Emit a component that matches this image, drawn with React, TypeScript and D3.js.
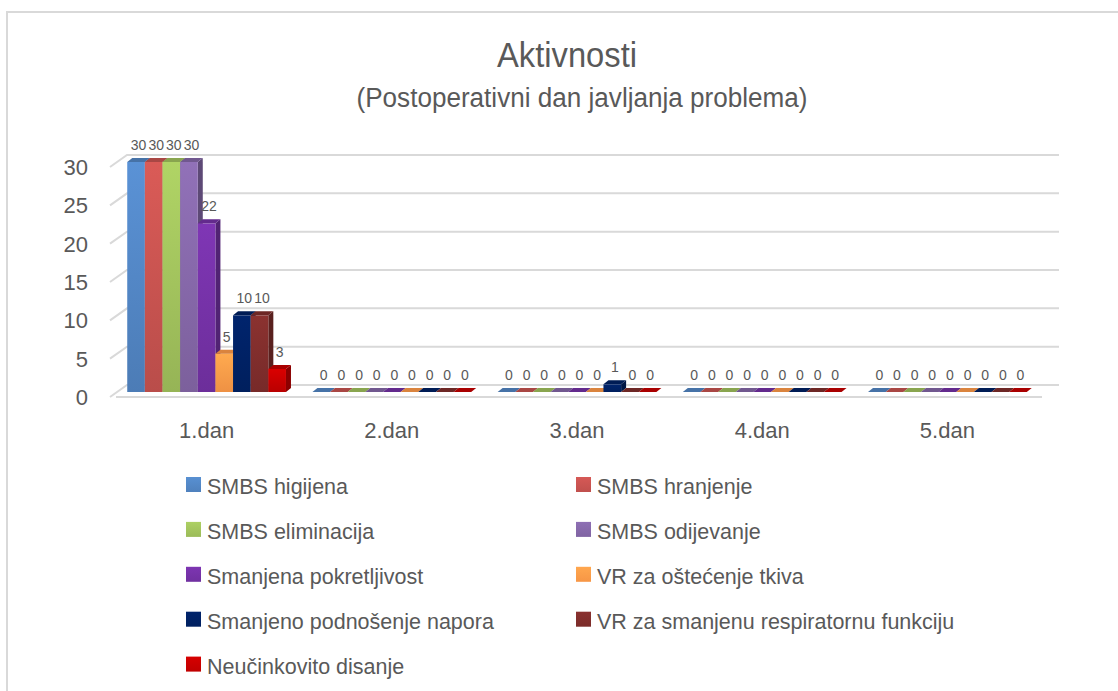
import { useEffect, useRef } from 'react'
import * as d3 from 'd3'

const categories = ['1.dan', '2.dan', '3.dan', '4.dan', '5.dan']

const seriesNames = [
  'SMBS higijena',
  'SMBS hranjenje',
  'SMBS eliminacija',
  'SMBS odijevanje',
  'Smanjena pokretljivost',
  'VR za oštećenje tkiva',
  'Smanjeno podnošenje napora',
  'VR za smanjenu respiratornu funkciju',
  'Neučinkovito disanje',
]

const seriesColors = [
  '#4f81bd',
  '#c0504d',
  '#9bbb59',
  '#8064a2',
  '#7030a0',
  '#f79646',
  '#002060',
  '#7b2c2a',
  '#c00000',
]

// values per day (1.dan .. 5.dan)
const smbsHigijena = [30, 0, 0, 0, 0]
const smbsHranjenje = [30, 0, 0, 0, 0]
const smbsEliminacija = [30, 0, 0, 0, 0]
const smbsOdijevanje = [30, 0, 0, 0, 0]
const smanjenaPokretljivost = [22, 0, 0, 0, 0]
const vrOstecenjeTkiva = [5, 0, 0, 0, 0]
const smanjenoPodnosenje = [10, 0, 1, 0, 0]
const vrRespiratorna = [10, 0, 0, 0, 0]
const neucinkovitoDisanje = [3, 0, 0, 0, 0]

const yTicks = [0, 5, 10, 15, 20, 25, 30]

const seriesValues = [
  smbsHigijena,
  smbsHranjenje,
  smbsEliminacija,
  smbsOdijevanje,
  smanjenaPokretljivost,
  vrOstecenjeTkiva,
  smanjenoPodnosenje,
  vrRespiratorna,
  neucinkovitoDisanje,
]

const FONT = '"Liberation Sans", Arial, sans-serif'
const TEXT = '#595959'

export default function App() {
  const svgRef = useRef<SVGSVGElement | null>(null)

  useEffect(() => {
    if (!svgRef.current) return
    const width = 1118
    const height = 691

    const svg = d3.select(svgRef.current)
    svg.selectAll('*').remove()
    svg.attr('width', width).attr('height', height)

    // chart frame
    svg
      .append('rect')
      .attr('x', 7)
      .attr('y', 12)
      .attr('width', 1130)
      .attr('height', 700)
      .attr('fill', '#fff')
      .attr('stroke', '#d9d9d9')
      .attr('stroke-width', 2)

    // title (narrow, tall look)
    svg
      .append('text')
      .attr('x', 567)
      .attr('y', 67)
      .attr('text-anchor', 'middle')
      .attr('textLength', 140)
      .attr('lengthAdjust', 'spacingAndGlyphs')
      .style('font-family', FONT)
      .style('font-size', '35px')
      .attr('fill', TEXT)
      .text('Aktivnosti')

    svg
      .append('text')
      .attr('x', 582)
      .attr('y', 107)
      .attr('text-anchor', 'middle')
      .attr('textLength', 451)
      .attr('lengthAdjust', 'spacingAndGlyphs')
      .style('font-family', FONT)
      .style('font-size', '27px')
      .attr('fill', TEXT)
      .text('(Postoperativni dan javljanja problema)')

    // 3D-ish geometry
    const floorDx = 17
    const floorDy = -12
    const barDx = 5
    const barDy = -4
    const barLift = 5

    const y = d3.scaleLinear().domain([0, 30]).range([397, 167])
    const xCat = d3.scaleBand<string>().domain(categories).range([114, 1040]).padding(0)
    const xSer = d3
      .scaleBand<string>()
      .domain(seriesNames)
      .range([0, xCat.bandwidth()])
      .paddingInner(0)
      .paddingOuter(0.75)

    const wallX = 110
    const rightX = 1059

    // gridlines: side wall diagonal + back wall
    const grid = svg.append('g').attr('fill', 'none').attr('stroke', '#d9d9d9').attr('stroke-width', 2)
    yTicks.forEach(t => {
      const yy = y(t)
      grid
        .append('path')
        .attr('d', `M${wallX},${yy} L${wallX + floorDx},${yy + floorDy} L${rightX},${yy + floorDy}`)
    })
    // floor front edge
    grid
      .append('line')
      .attr('x1', wallX + 6)
      .attr('x2', rightX - floorDx)
      .attr('y1', y(0))
      .attr('y2', y(0))

    // y labels
    svg
      .append('g')
      .selectAll('text')
      .data(yTicks)
      .enter()
      .append('text')
      .attr('x', 88)
      .attr('y', d => y(d) + 8)
      .attr('text-anchor', 'end')
      .style('font-family', FONT)
      .style('font-size', '22px')
      .attr('fill', TEXT)
      .text(d => d)

    // category labels
    svg
      .append('g')
      .selectAll('text')
      .data(categories)
      .enter()
      .append('text')
      .attr('x', d => (xCat(d) as number) + xCat.bandwidth() / 2)
      .attr('y', 438)
      .attr('text-anchor', 'middle')
      .style('font-family', FONT)
      .style('font-size', '22px')
      .attr('fill', TEXT)
      .text(d => d)

    // gradients
    const defs = svg.append('defs')
    seriesColors.forEach((c, i) => {
      const g = defs
        .append('linearGradient')
        .attr('id', `bar-grad-${i}`)
        .attr('x1', '0%')
        .attr('y1', '0%')
        .attr('x2', '0%')
        .attr('y2', '100%')
      g.append('stop').attr('offset', '0%').attr('stop-color', d3.color(c)!.brighter(0.35).formatHex())
      g.append('stop').attr('offset', '100%').attr('stop-color', d3.color(c)!.darker(0.1).formatHex())
    })

    // bars
    const bars = svg.append('g')
    const labels = svg.append('g')
    categories.forEach((cat, ci) => {
      seriesNames.forEach((name, si) => {
        const v = seriesValues[si][ci]
        const x0 = (xCat(cat) as number) + (xSer(name) as number)
        const w = xSer.bandwidth()
        const yb = y(0) - barLift
        const yt = y(v) - barLift
        const col = d3.color(seriesColors[si])!
        const g = bars.append('g')
        if (v > 0) {
          // side face
          g.append('path')
            .attr('d', `M${x0 + w},${yt} L${x0 + w + barDx},${yt + barDy} L${x0 + w + barDx},${yb + barDy} L${x0 + w},${yb} Z`)
            .attr('fill', col.darker(0.9).formatHex())
          // front face
          g.append('rect')
            .attr('x', x0)
            .attr('y', yt)
            .attr('width', w)
            .attr('height', yb - yt)
            .attr('fill', `url(#bar-grad-${si})`)
        }
        // top face
        g.append('path')
          .attr('d', `M${x0},${yt} L${x0 + barDx},${yt + barDy} L${x0 + w + barDx},${yt + barDy} L${x0 + w},${yt} Z`)
          .attr('fill', col.darker(0.35).formatHex())

        labels
          .append('text')
          .attr('x', x0 + w / 2 + barDx / 2)
          .attr('y', yt - 12)
          .attr('text-anchor', 'middle')
          .style('font-family', FONT)
          .style('font-size', '14px')
          .attr('fill', TEXT)
          .text(v)
      })
    })

    // legend
    const legend = svg.append('g')
    seriesNames.forEach((name, i) => {
      const col = i % 2
      const row = Math.floor(i / 2)
      const lx = col === 0 ? 186 : 576
      const ly = 477 + row * 44.9
      const grad = defs
        .append('linearGradient')
        .attr('id', `leg-grad-${i}`)
        .attr('x1', '0%')
        .attr('y1', '0%')
        .attr('x2', '0%')
        .attr('y2', '100%')
      grad.append('stop').attr('offset', '0%').attr('stop-color', d3.color(seriesColors[i])!.brighter(0.3).formatHex())
      grad.append('stop').attr('offset', '100%').attr('stop-color', seriesColors[i])
      legend
        .append('rect')
        .attr('x', lx)
        .attr('y', ly)
        .attr('width', 15)
        .attr('height', 15)
        .attr('fill', `url(#leg-grad-${i})`)
      legend
        .append('text')
        .attr('x', lx + 21)
        .attr('y', ly + 17)
        .style('font-family', FONT)
        .style('font-size', '21.5px')
        .attr('fill', TEXT)
        .text(name)
    })
  }, [])

  return (
    <div style={{ position: 'absolute', left: 0, top: 0, width: 1118, height: 691, overflow: 'hidden' }}>
      <svg ref={svgRef} style={{ display: 'block' }}></svg>
    </div>
  )
}
